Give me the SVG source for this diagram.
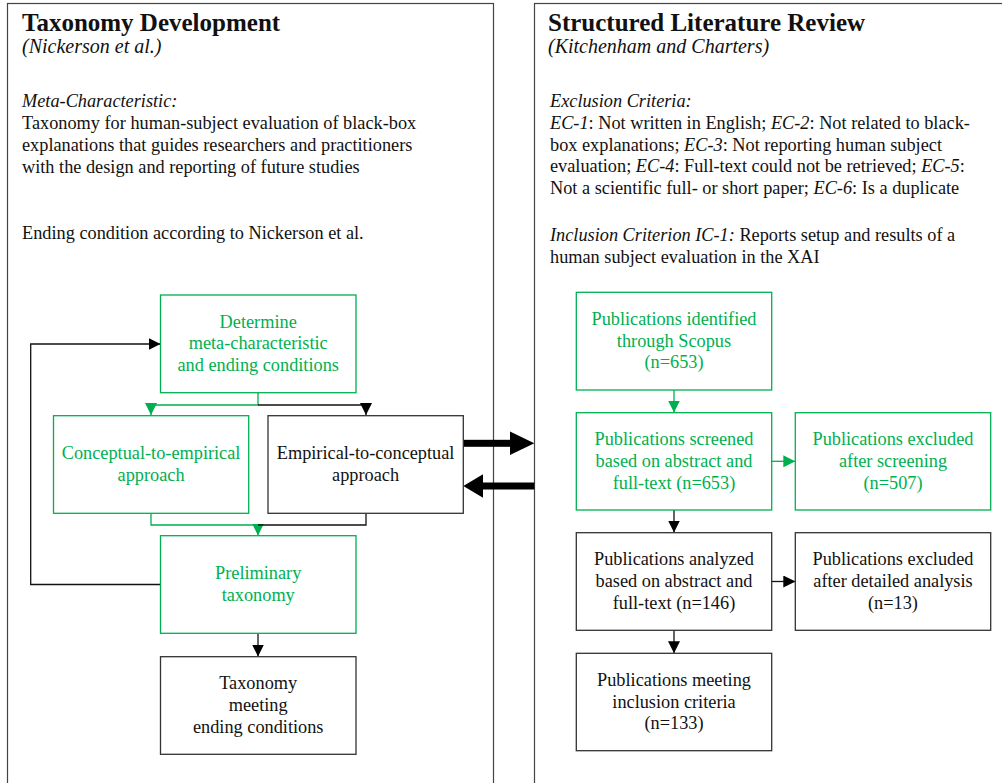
<svg xmlns="http://www.w3.org/2000/svg" width="1002" height="783" viewBox="0 0 1002 783">
<style>
text{font-family:"Liberation Serif","Times New Roman",serif;font-size:18.3px;fill:#111}
.title{font-size:25px;font-weight:bold}
.sub{font-size:20px;font-style:italic}
.it{font-style:italic}
.c{text-anchor:middle}
.g{fill:#00B050}
.panel{fill:#fff;stroke:#444;stroke-width:1.2}
.bg{fill:#fff;stroke:#00B050;stroke-width:1.3}
.bk{fill:#fff;stroke:#333;stroke-width:1.3}
.lg{fill:none;stroke:#00B050;stroke-width:1.3}
.lk{fill:none;stroke:#111;stroke-width:1.3}
</style>
<defs>
<marker id="ag" markerUnits="userSpaceOnUse" markerWidth="12" markerHeight="12" viewBox="0 0 11 11" refX="11" refY="5.5" orient="auto"><path d="M0,0 L11,5.5 L0,11 z" fill="#00B050"/></marker>
<marker id="ak" markerUnits="userSpaceOnUse" markerWidth="12" markerHeight="12" viewBox="0 0 11 11" refX="11" refY="5.5" orient="auto"><path d="M0,0 L11,5.5 L0,11 z" fill="#000"/></marker>
</defs>
<rect width="1002" height="783" fill="#fff"/>
<g id="panel-left">
<rect class="panel" x="7.5" y="3.5" width="486" height="800"/>
<text class="title" x="22" y="31">Taxonomy Development</text>
<text class="sub" x="22" y="53">(Nickerson et al.)</text>
<text class="it" x="22" y="107">Meta-Characteristic:</text>
<text x="22" y="129">Taxonomy for human-subject evaluation of black-box</text>
<text x="22" y="151">explanations that guides researchers and practitioners</text>
<text x="22" y="173">with the design and reporting of future studies</text>
<text x="22" y="239">Ending condition according to Nickerson et al.</text>
</g>
<g id="panel-right">
<rect class="panel" x="534.5" y="3.5" width="500" height="800"/>
<text class="title" x="548" y="31">Structured Literature Review</text>
<text class="sub" x="548" y="53">(Kitchenham and Charters)</text>
<text class="it" x="550" y="107">Exclusion Criteria:</text>
<text x="550" y="129"><tspan class="it">EC-1</tspan>: Not written in English; <tspan class="it">EC-2</tspan>: Not related to black-</text>
<text x="550" y="151">box explanations; <tspan class="it">EC-3</tspan>: Not reporting human subject</text>
<text x="550" y="172">evaluation; <tspan class="it">EC-4</tspan>: Full-text could not be retrieved; <tspan class="it">EC-5</tspan>:</text>
<text x="550" y="194">Not a scientific full- or short paper; <tspan class="it">EC-6</tspan>: Is a duplicate</text>
<text x="550" y="241"><tspan class="it">Inclusion Criterion IC-1:</tspan> Reports setup and results of a</text>
<text x="550" y="263">human subject evaluation in the XAI</text>
</g>
<g id="connectors">
<polyline class="lg" points="258,393 258,405 151,405 151,415" marker-end="url(#ag)"/>
<polyline class="lk" points="258,405 366,405 366,415" marker-end="url(#ak)"/>
<polyline class="lg" points="151,513 151,525 258,525 258,535.5" marker-end="url(#ag)"/>
<polyline class="lk" points="366,513 366,525 258,525"/>
<polyline class="lk" points="258,633 258,656.5" marker-end="url(#ak)"/>
<polyline class="lk" points="160.5,584.5 30.7,584.5 30.7,344 160.5,344" marker-end="url(#ak)"/>
<polyline class="lg" points="674,390 674,412.5" marker-end="url(#ag)"/>
<polyline class="lg" points="771.7,461.3 795.3,461.3" marker-end="url(#ag)"/>
<polyline class="lk" points="674,510 674,532.5" marker-end="url(#ak)"/>
<polyline class="lk" points="771.7,581.5 795.3,581.5" marker-end="url(#ak)"/>
<polyline class="lk" points="674,630.3 674,653.2" marker-end="url(#ak)"/>
<g id="big-arrows" fill="#000">
<rect x="463.3" y="439.8" width="48" height="7"/>
<polygon points="510,431.5 534.3,443.3 510,455"/>
<rect x="482" y="482.5" width="52.3" height="7"/>
<polygon points="483,474.3 463.3,486 483,497.7"/>
</g>
</g>
<g id="n-determine">
<rect class="bg" x="160.5" y="295" width="195.5" height="97.7"/>
<text class="c g" x="258.2" y="327.7">Determine</text>
<text class="c g" x="258.2" y="349.4">meta-characteristic</text>
<text class="c g" x="258.2" y="371.1">and ending conditions</text>
</g>
<g id="n-conceptual">
<rect class="bg" x="53.5" y="415.7" width="195.2" height="97.6"/>
<text class="c g" x="151.1" y="459.2">Conceptual-to-empirical</text>
<text class="c g" x="151.1" y="480.9">approach</text>
</g>
<g id="n-empirical">
<rect class="bk" x="268" y="415.7" width="195.3" height="97.6"/>
<text class="c" x="365.6" y="459.2">Empirical-to-conceptual</text>
<text class="c" x="365.6" y="480.9">approach</text>
</g>
<g id="n-preliminary">
<rect class="bg" x="160.5" y="535.7" width="195.5" height="97.6"/>
<text class="c g" x="258.2" y="579.2">Preliminary</text>
<text class="c g" x="258.2" y="600.9">taxonomy</text>
</g>
<g id="n-final">
<rect class="bk" x="160.5" y="656.7" width="195.5" height="97.6"/>
<text class="c" x="258.2" y="689.2">Taxonomy</text>
<text class="c" x="258.2" y="710.9">meeting</text>
<text class="c" x="258.2" y="732.6">ending conditions</text>
</g>
<g id="n-identified">
<rect class="bg" x="576.3" y="292.3" width="195.4" height="97.7"/>
<text class="c g" x="674" y="325">Publications identified</text>
<text class="c g" x="674" y="346.7">through Scopus</text>
<text class="c g" x="674" y="368.4">(n=653)</text>
</g>
<g id="n-screened">
<rect class="bg" x="576.3" y="412.7" width="195.4" height="97.3"/>
<text class="c g" x="674" y="445.1">Publications screened</text>
<text class="c g" x="674" y="466.8">based on abstract and</text>
<text class="c g" x="674" y="488.5">full-text (n=653)</text>
</g>
<g id="n-excluded-screening">
<rect class="bg" x="795.3" y="412.7" width="195.4" height="97.3"/>
<text class="c g" x="893" y="445.1">Publications excluded</text>
<text class="c g" x="893" y="466.8">after screening</text>
<text class="c g" x="893" y="488.5">(n=507)</text>
</g>
<g id="n-analyzed">
<rect class="bk" x="576.3" y="532.7" width="195.4" height="97.6"/>
<text class="c" x="674" y="565.3">Publications analyzed</text>
<text class="c" x="674" y="587">based on abstract and</text>
<text class="c" x="674" y="608.7">full-text (n=146)</text>
</g>
<g id="n-excluded-analysis">
<rect class="bk" x="795.3" y="532.7" width="195.4" height="97.6"/>
<text class="c" x="893" y="565.3">Publications excluded</text>
<text class="c" x="893" y="587">after detailed analysis</text>
<text class="c" x="893" y="608.7">(n=13)</text>
</g>
<g id="n-meeting">
<rect class="bk" x="576.3" y="653.3" width="195.4" height="97.4"/>
<text class="c" x="674" y="685.8">Publications meeting</text>
<text class="c" x="674" y="707.5">inclusion criteria</text>
<text class="c" x="674" y="729.2">(n=133)</text>
</g>
</svg>
